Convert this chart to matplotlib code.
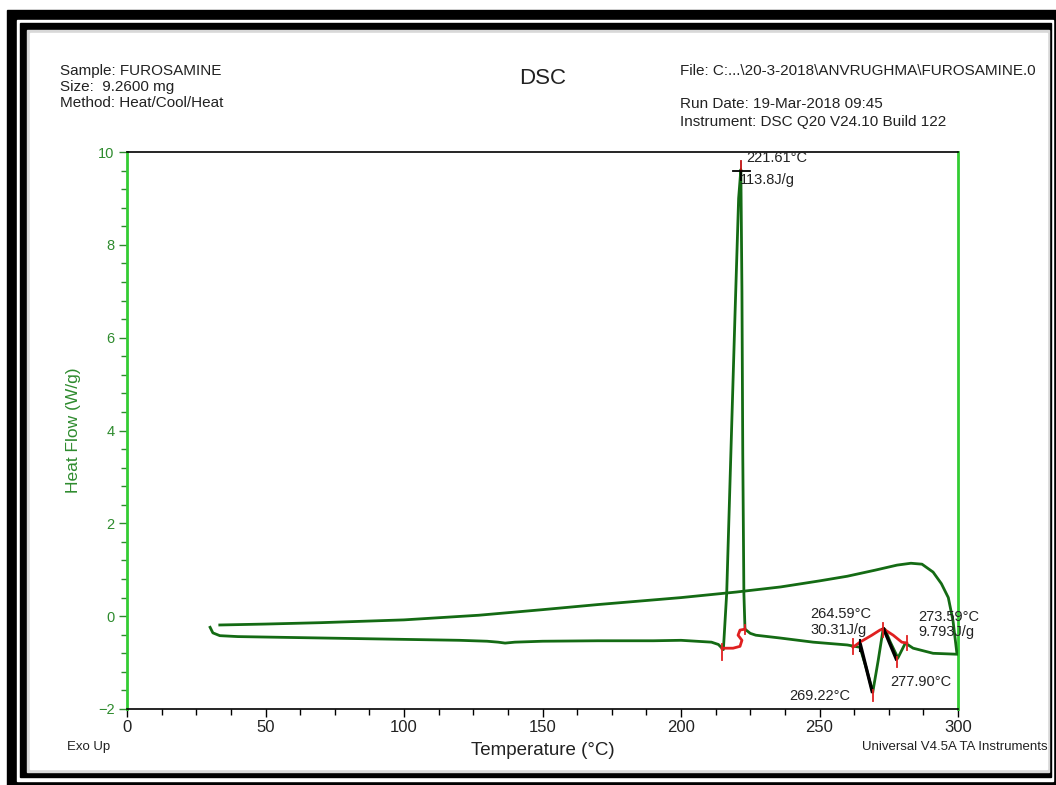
"""DSC thermogram of furosamine, redrawn as a TA Universal Analysis printout."""

import matplotlib

matplotlib.use("Agg")
import matplotlib.pyplot as plt  # noqa: E402
from matplotlib.patches import Rectangle  # noqa: E402
from matplotlib.ticker import MultipleLocator  # noqa: E402

plt.rcParams["font.family"] = ["Liberation Sans", "DejaVu Sans"]

W, H = 1056, 785

# first heating run (lower trace), temperature in degC, heat flow in W/g
heat_temp = [30, 31, 33.5, 40, 60, 80, 100, 120, 130, 134, 136.5, 140, 150, 170,
             190, 200, 211, 213.5, 215.3, 216.5, 218, 219.5, 220.8, 221.61, 222.0,
             222.3, 222.7, 223.1, 225, 227, 235.7, 247.7, 260, 264.59, 266.8,
             269.22, 271.2, 273.0, 273.59, 275.5, 278.3, 281, 283.8, 291, 299.6]
heat_flow = [-0.24, -0.36, -0.42, -0.44, -0.46, -0.48, -0.50, -0.52, -0.54, -0.56,
             -0.58, -0.56, -0.54, -0.53, -0.53, -0.52, -0.56, -0.61, -0.72, 0.5,
             3.5, 6.5, 9.0, 9.62, 7.0, 3.5, 0.5, -0.28, -0.37, -0.41, -0.47, -0.56,
             -0.62, -0.67, -1.1, -1.64, -0.95, -0.27, -0.28, -0.55, -0.9, -0.58,
             -0.69, -0.8, -0.82]

# cooling run (upper trace)
cool_temp = [299.6, 298.2, 296.5, 294, 291, 287, 283, 278, 270, 260, 250, 236,
             220, 200, 170, 150, 127, 100, 70, 50, 33.5]
cool_flow = [-0.8, -0.1, 0.4, 0.7, 0.95, 1.12, 1.14, 1.1, 0.99, 0.86, 0.76, 0.63,
             0.52, 0.4, 0.25, 0.14, 0.02, -0.08, -0.14, -0.17, -0.19]

# integration baselines (red)
base1_temp = [214.8, 218.8, 221.3, 222.0, 220.6, 221.3, 223.1]
base1_flow = [-0.69, -0.69, -0.65, -0.52, -0.41, -0.30, -0.28]
base2_temp = [262.1, 264.6, 268.9, 271.8, 273.0, 276.6, 279.7, 281.5]
base2_flow = [-0.67, -0.56, -0.41, -0.30, -0.27, -0.41, -0.56, -0.58]

GREEN = "#33cc33"
TRACE = "#146b14"
TEXT = "#222222"

fig = plt.figure(figsize=(W / 100, H / 100), dpi=100)


def box(x0, y0, x1, y1, color):
    # pixel box, y measured from the top
    fig.add_artist(Rectangle((x0 / W, 1 - y1 / H), (x1 - x0) / W, (y1 - y0) / H,
                             transform=fig.transFigure, color=color, zorder=-5))


# the screenshot frame
box(7, 10, 1060, 790, "black")
box(17, 20, 1053, 781, "white")
box(20, 23, 1051, 777, "black")
box(27, 30, 1049, 772, "#d8d8d8")
box(30, 33, 1047, 769, "white")

ax = fig.add_axes([127 / W, 1 - 709 / H, (958 - 127) / W, (709 - 152) / H])
ax.set_facecolor("none")

ax.plot(cool_temp, cool_flow, color=TRACE, lw=2, zorder=3)
ax.plot(heat_temp, heat_flow, color=TRACE, lw=2, zorder=3)
ax.plot(base1_temp, base1_flow, color="#e02020", lw=2, zorder=4)
ax.plot(base2_temp, base2_flow, color="#e02020", lw=2, zorder=4)

# drop lines of the split peak
ax.plot([264.8, 269.0], [-0.62, -1.62], color="black", lw=2.4, zorder=5)
ax.plot([273.2, 277.7], [-0.28, -0.92], color="black", lw=2.4, zorder=5)
ax.plot([264.6, 264.6], [-0.52, -0.75], color="black", lw=1.5, zorder=5)

# red tick marks at the limits and peaks
for t, lo, hi in [(214.8, -0.95, -0.6), (223.1, -0.38, -0.2), (262.1, -0.82, -0.5),
                  (273.0, -0.45, -0.15), (281.5, -0.72, -0.42), (269.22, -1.82, -1.6),
                  (277.9, -1.1, -0.88)]:
    ax.plot([t, t], [lo, hi], color="#e02020", lw=1.3, zorder=6)

# peak crosshair
ax.plot([218.8, 224.9], [9.59, 9.59], color="black", lw=1.3, zorder=6)
ax.plot([221.61, 221.61], [9.59, 9.8], color="#c01010", lw=1.3, zorder=6)
ax.plot([221.61, 221.61], [9.4, 9.59], color="black", lw=1.3, zorder=6)

lab = dict(fontsize=10.5, color=TEXT, zorder=7)
ax.text(223.5, 9.78, "221.61°C", **lab)
ax.text(221.2, 9.3, "113.8J/g", **lab)
ax.text(246.8, -0.05, "264.59°C", **lab)
ax.text(246.8, -0.38, "30.31J/g", **lab)
ax.text(285.8, -0.1, "273.59°C", **lab)
ax.text(285.8, -0.43, "9.793J/g", **lab)
ax.text(275.5, -1.5, "277.90°C", **lab)
ax.text(239.2, -1.8, "269.22°C", **lab)

ax.set_xlim(0, 300)
ax.set_ylim(-2, 10)
ax.xaxis.set_major_locator(MultipleLocator(50))
ax.xaxis.set_minor_locator(MultipleLocator(12.5))
ax.yaxis.set_major_locator(MultipleLocator(2))
ax.yaxis.set_minor_locator(MultipleLocator(0.4))
ax.tick_params(axis="x", which="major", length=6, width=1, labelsize=12, pad=2,
               labelcolor=TEXT)
ax.tick_params(axis="x", which="minor", length=4, width=1)
ax.tick_params(axis="y", which="major", length=6, width=1, labelsize=10.5,
               colors="#2e8b2e", pad=3)
ax.tick_params(axis="y", which="minor", length=4, width=1, colors="#2e8b2e")
for side in ("left", "right"):
    ax.spines[side].set_color(GREEN)
    ax.spines[side].set_linewidth(2)
for side in ("top", "bottom"):
    ax.spines[side].set_color("black")
    ax.spines[side].set_linewidth(1.2)

ax.set_xlabel("Temperature (°C)", fontsize=13.5, labelpad=5, color=TEXT)
ax.set_ylabel("Heat Flow (W/g)", fontsize=12.5, color="#2e8b2e", labelpad=12)

# printout header and footer
head = dict(fontsize=11, color=TEXT, va="center")
fig.text(60 / W, 1 - 71 / H, "Sample: FUROSAMINE", **head)
fig.text(60 / W, 1 - 87 / H, "Size:  9.2600 mg", **head)
fig.text(60 / W, 1 - 103 / H, "Method: Heat/Cool/Heat", **head)
fig.text(543 / W, 1 - 79 / H, "DSC", fontsize=16, ha="center", va="center",
         color=TEXT)
fig.text(680 / W, 1 - 71 / H, "File: C:...\\20-3-2018\\ANVRUGHMA\\FUROSAMINE.0",
         **head)
fig.text(680 / W, 1 - 104 / H, "Run Date: 19-Mar-2018 09:45", **head)
fig.text(680 / W, 1 - 122 / H, "Instrument: DSC Q20 V24.10 Build 122", **head)
fig.text(67 / W, 1 - 747 / H, "Exo Up", fontsize=9.5, va="center", color=TEXT)
fig.text(1048 / W, 1 - 747 / H, "Universal V4.5A TA Instruments", fontsize=9.5,
         ha="right", va="center", color=TEXT)

fig.savefig("out.png", dpi=100)
plt.close(fig)
